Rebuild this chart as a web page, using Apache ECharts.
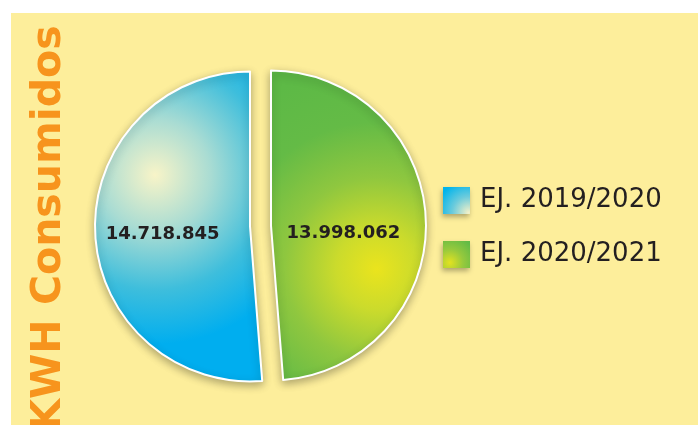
<!DOCTYPE html>
<html>
<head>
<meta charset="utf-8">
<script src="https://cdn.jsdelivr.net/npm/echarts@6/dist/echarts.min.js"></script>
<style>
    html, body { margin: 0; padding: 0; background: #ffffff; }
    #chart { width: 698px; height: 425px; }
</style>
</head>
<body>
<div id="chart"></div>
<script>
// === DATA ===
const categories = ['EJ. 2019/2020', 'EJ. 2020/2021'];
const values = [14718845, 13998062];
const titleText = 'KWH Consumidos';

// === STYLE ===
const BG_YELLOW = '#FDEE9B';
const ORANGE = '#F7941D';
const TEXT_DARK = '#231F20';

const blueSlice = {
    type: 'radial', x: 0.36, y: 0.335, r: 1.0,
    colorStops: [
        { offset: 0, color: '#F8F4C8' },
        { offset: 0.33, color: '#A9DCD3' },
        { offset: 0.68, color: '#3EBEDC' },
        { offset: 1, color: '#00AEEF' }
    ]
};
const greenSlice = {
    type: 'radial', x: 0.68, y: 0.64, r: 1.3,
    colorStops: [
        { offset: 0, color: '#EAE41D' },
        { offset: 0.2, color: '#CBDB2C' },
        { offset: 0.45, color: '#8FC73F' },
        { offset: 0.72, color: '#64BB46' },
        { offset: 1, color: '#5DB946' }
    ]
};
const blueIcon = {
    type: 'radial', x: 0.95, y: 0.95, r: 1.2,
    colorStops: [
        { offset: 0, color: '#F4F1C8' },
        { offset: 0.5, color: '#6BCBDC' },
        { offset: 1, color: '#00B4EC' }
    ]
};
const greenIcon = {
    type: 'radial', x: 0.25, y: 0.8, r: 1.0,
    colorStops: [
        { offset: 0, color: '#E3E220' },
        { offset: 0.5, color: '#96C93D' },
        { offset: 1, color: '#62BB46' }
    ]
};

// === HELPERS ===
function formatDots(v) {
    return String(v).replace(/\B(?=(\d{3})+(?!\d))/g, '.');
}

// === CHART ===
const chart = echarts.init(document.getElementById('chart'), null, { renderer: 'canvas' });

// green slice starts at the top and runs clockwise, blue follows
const pieData = [
    { name: categories[1], value: values[1], selected: true, itemStyle: { color: greenSlice } },
    { name: categories[0], value: values[0], selected: true, itemStyle: { color: blueSlice } }
];

chart.setOption({
    animation: false,
    backgroundColor: '#ffffff',
    graphic: [
        {
            type: 'rect', z: -10, silent: true,
            shape: { x: 11, y: 13, width: 687, height: 412 },
            style: { fill: BG_YELLOW }
        },
        {
            type: 'text', silent: true,
            x: 49, y: 228, rotation: Math.PI / 2,
            style: {
                text: titleText,
                fill: ORANGE,
                font: 'bold 41px "DejaVu Sans"',
                align: 'center',
                verticalAlign: 'middle'
            }
        }
    ],
    legend: {
        orient: 'vertical',
        left: 443,
        top: 187,
        padding: 0,
        icon: 'rect',
        itemWidth: 27,
        itemHeight: 27,
        itemGap: 27,
        selectedMode: false,
        itemStyle: {
            borderWidth: 0,
            shadowBlur: 5,
            shadowColor: 'rgba(0,0,0,0.3)',
            shadowOffsetX: -1,
            shadowOffsetY: 3
        },
        textStyle: {
            color: TEXT_DARK,
            fontFamily: 'DejaVu Sans',
            fontSize: 26,
            padding: [0, 0, 0, 5]
        },
        data: [
            { name: categories[0], itemStyle: { color: blueIcon } },
            { name: categories[1], itemStyle: { color: greenIcon } }
        ]
    },
    series: [{
        type: 'pie',
        center: [260.5, 226],
        radius: 155,
        startAngle: 90,
        clockwise: true,
        selectedMode: 'multiple',
        selectedOffset: 10.5,
        emphasis: { disabled: true },
        itemStyle: {
            borderColor: '#ffffff',
            borderWidth: 2,
            shadowBlur: 8,
            shadowColor: 'rgba(0,0,0,0.3)',
            shadowOffsetX: 0,
            shadowOffsetY: 3
        },
        label: {
            show: true,
            position: 'inside',
            color: TEXT_DARK,
            fontFamily: 'DejaVu Sans',
            fontWeight: 'bold',
            fontSize: 18,
            formatter: p => formatDots(p.value)
        },
        labelLine: { show: false },
        labelLayout: p => (p.dataIndex === 0 ? { dx: -8, dy: 11 } : { dx: -7, dy: 5 }),
        data: pieData
    }]
});
</script>
</body>
</html>
